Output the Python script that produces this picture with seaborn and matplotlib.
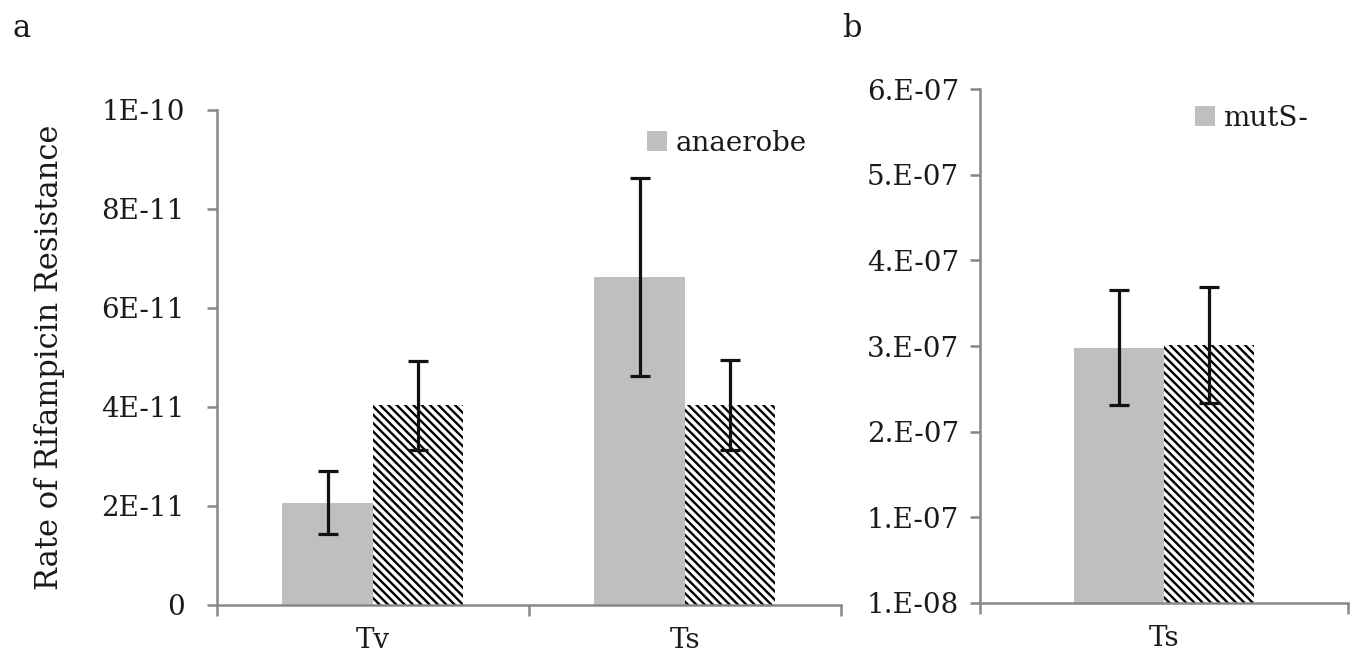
import matplotlib
matplotlib.use("Agg")
import matplotlib.pyplot as plt
from matplotlib.patches import Patch
import seaborn as sns
import pandas as pd

# ---- Panel a: rifampicin resistance rate, Tv vs Ts ----
strains_a = ["Tv", "Ts"]
conditions_a = ["anaerobe", "aerobe"]
anaerobe_rate = [2.07e-11, 6.63e-11]
anaerobe_err = [0.63e-11, 2.00e-11]
aerobe_rate = [4.03e-11, 4.04e-11]
aerobe_err = [0.90e-11, 0.90e-11]
yticks_a = [0, 2e-11, 4e-11, 6e-11, 8e-11, 1e-10]
yticklabels_a = ["0", "2E-11", "4E-11", "6E-11", "8E-11", "1E-10"]

# ---- Panel b: mutS- background, Ts only ----
strains_b = ["Ts"]
conditions_b = ["mutS-", "mutS+"]
mutS_minus_rate = [3.08e-7]
mutS_minus_err = [0.67e-7]
mutS_plus_rate = [3.11e-7]
mutS_plus_err = [0.68e-7]
# axis starts at 1E-08 with a major unit of 1E-07
yticks_b = [1e-8, 1.1e-7, 2.1e-7, 3.1e-7, 4.1e-7, 5.1e-7, 6.1e-7]
yticklabels_b = ["1.E-08", "1.E-07", "2.E-07", "3.E-07", "4.E-07", "5.E-07", "6.E-07"]

GRAY = "#bfbfbf"
AXIS_GRAY = "#878787"
TEXT = "#1a1a1a"
FONT = ["DejaVu Serif"]
FS = 20

sns.set_theme(style="white")
plt.rcParams["font.family"] = FONT
plt.rcParams["hatch.linewidth"] = 1.7

fig = plt.figure(figsize=(13.58, 6.67), dpi=100)
ax_a = fig.add_axes([0.1596, 0.0930, 0.4597, 0.7421])
ax_b = fig.add_axes([0.7216, 0.0964, 0.2710, 0.7697])


def draw_panel(ax, strains, conditions, rates, errs, width):
    df = pd.DataFrame({
        "strain": [s for _ in conditions for s in strains],
        "condition": [c for c in conditions for _ in strains],
        "rate": [v for series in rates for v in series],
    })
    sns.barplot(data=df, x="strain", y="rate", hue="condition",
                order=strains, hue_order=conditions,
                palette=[GRAY, "white"], saturation=1, width=width,
                errorbar=None, legend=False, linewidth=0, ax=ax)
    # second series: fine black/white diagonal stripes
    for p in ax.containers[1]:
        p.set_hatch("\\\\\\\\")
        p.set_edgecolor("black")
        p.set_linewidth(0)
    # error bars centred on each drawn bar
    for cont, err in zip(ax.containers, errs):
        xs = [p.get_x() + p.get_width() / 2 for p in cont]
        ys = [p.get_height() for p in cont]
        ax.errorbar(xs, ys, yerr=err, fmt="none", ecolor="#111111",
                    elinewidth=2.3, capsize=7, capthick=2.3, zorder=5)


def style_axes(ax, yticks, yticklabels, ylim, n_cat, pad_y):
    ax.set_ylim(*ylim)
    ax.set_xlim(-0.5, n_cat - 0.5)
    ax.set_yticks(yticks)
    ax.set_yticklabels(yticklabels)
    ax.set_xlabel("")
    ax.set_ylabel("")
    for side in ["top", "right"]:
        ax.spines[side].set_visible(False)
    for side in ["left", "bottom"]:
        ax.spines[side].set_color(AXIS_GRAY)
        ax.spines[side].set_linewidth(1.8)
    ax.tick_params(axis="y", which="major", length=7, width=1.8,
                   color=AXIS_GRAY, direction="out", left=True,
                   labelsize=FS, labelcolor=TEXT, pad=pad_y)
    ax.tick_params(axis="x", which="major", length=0, labelsize=FS,
                   labelcolor=TEXT, pad=16)
    ax.set_xticks([i - 0.5 for i in range(n_cat + 1)], minor=True)
    ax.tick_params(axis="x", which="minor", length=8, width=1.8,
                   color=AXIS_GRAY, direction="out", bottom=True)
    ax.grid(False)


draw_panel(ax_a, strains_a, conditions_a, [anaerobe_rate, aerobe_rate],
           [anaerobe_err, aerobe_err], 0.58)
style_axes(ax_a, yticks_a, yticklabels_a, (0, 1e-10), len(strains_a), 16)
ax_a.set_ylabel("Rate of Rifampicin Resistance", fontsize=22,
                color=TEXT, labelpad=26)

draw_panel(ax_b, strains_b, conditions_b, [mutS_minus_rate, mutS_plus_rate],
           [mutS_minus_err, mutS_plus_err], 0.49)
style_axes(ax_b, yticks_b, yticklabels_b, (1e-8, 6.1e-7), len(strains_b), 8)

# legends show only the grey series
for ax, label, anchor in [(ax_a, conditions_a[0], (0.69, 0.96)),
                          (ax_b, conditions_b[0], (0.585, 0.97))]:
    ax.legend(handles=[Patch(facecolor=GRAY, edgecolor="none")],
              labels=[label], loc="upper left", bbox_to_anchor=anchor,
              frameon=False, fontsize=FS, handlelength=0.7,
              handleheight=0.7, handletextpad=0.3, borderpad=0,
              borderaxespad=0, labelcolor=TEXT)

fig.text(0.009, 0.945, "a", fontsize=22, color=TEXT)
fig.text(0.620, 0.945, "b", fontsize=22, color=TEXT)

fig.savefig("out.png", dpi=100)
